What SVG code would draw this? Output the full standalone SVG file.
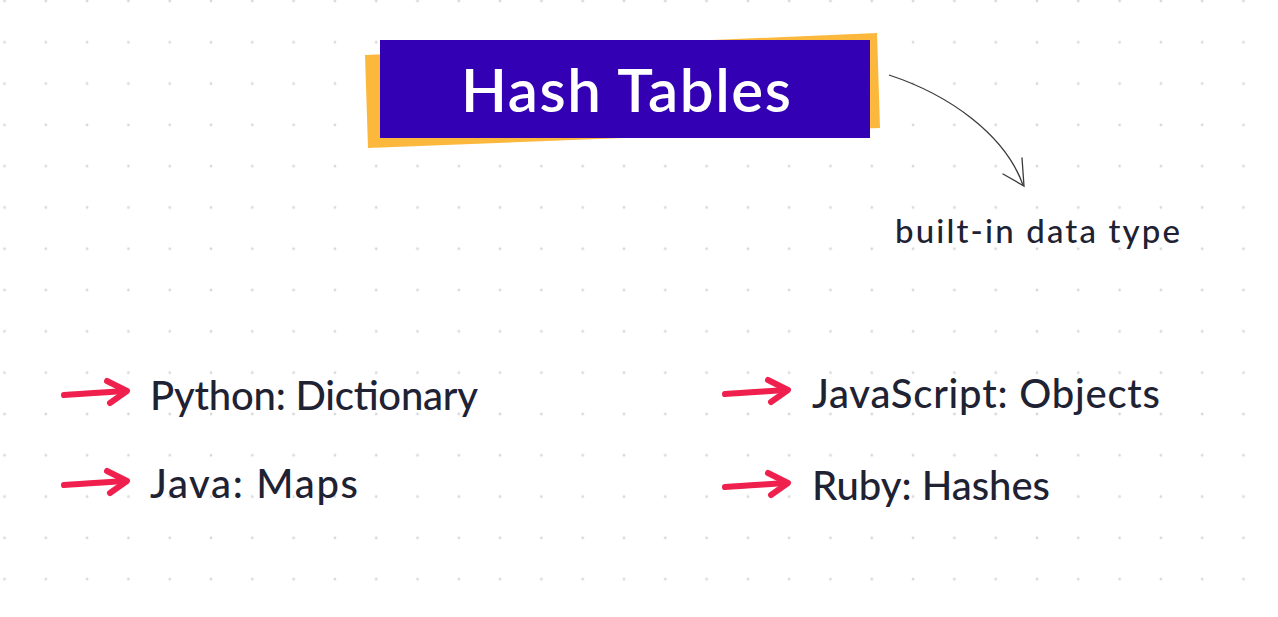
<svg xmlns="http://www.w3.org/2000/svg" width="1278" height="617" viewBox="0 0 1278 617">
<defs>
<pattern id="dots" x="4.5" y="1" width="41.3" height="41.3" patternUnits="userSpaceOnUse">
<circle cx="0" cy="0" r="1.4" fill="#d9d8de"/>
<circle cx="41.3" cy="0" r="1.4" fill="#d9d8de"/>
<circle cx="0" cy="41.3" r="1.4" fill="#d9d8de"/>
<circle cx="41.3" cy="41.3" r="1.4" fill="#d9d8de"/>
</pattern>
<g id="redarrow">
<path d="M0,3 C20,2 45,0 62,-1" fill="none" stroke="#f0204e" stroke-width="6" stroke-linecap="round"/>
<path d="M43,-11 L63,-1 L46,11" fill="none" stroke="#f0204e" stroke-width="6" stroke-linecap="round" stroke-linejoin="round"/>
</g>
</defs>
<style>
.item{font-family:"Lato","Noto Sans",sans-serif;font-weight:500;font-size:40px;fill:#1e2233}
.title{font-family:"Lato","Noto Sans",sans-serif;font-weight:600;font-size:60px;fill:#ffffff}
.note{font-family:"Lato","Noto Sans",sans-serif;font-weight:500;font-size:33px;fill:#1e2233}
</style>
<rect width="1278" height="617" fill="#ffffff"/>
<rect width="1278" height="617" fill="url(#dots)"/>
<g id="title">
<polygon points="365,55 877,33 880,128 368,148" fill="#fcb83c"/>
<rect x="380" y="40" width="490" height="98" fill="#3300b3"/>
<text class="title" x="626" y="112" text-anchor="middle" textLength="330">Hash Tables</text>
</g>
<g id="note">
<text class="note" x="895" y="243" textLength="285">built-in data type</text>
</g>
<g id="connectors">
<path d="M889,75 C950,95 1005,135 1023,185" fill="none" stroke="#3a3a3a" stroke-width="1.3"/>
<path d="M1022,158 L1024,186 L1003,174" fill="none" stroke="#3a3a3a" stroke-width="1.3" stroke-linecap="round"/>
</g>
<g id="python">
<use href="#redarrow" x="64" y="392"/>
<text class="item" x="150" y="410" textLength="328">Python: Dictionary</text>
</g>
<g id="java">
<use href="#redarrow" x="64" y="482"/>
<text class="item" x="150" y="498" textLength="208">Java: Maps</text>
</g>
<g id="javascript">
<use href="#redarrow" x="725" y="391"/>
<text class="item" x="812" y="408" textLength="348">JavaScript: Objects</text>
</g>
<g id="ruby">
<use href="#redarrow" x="725" y="484"/>
<text class="item" x="812" y="500" textLength="238">Ruby: Hashes</text>
</g>
</svg>
